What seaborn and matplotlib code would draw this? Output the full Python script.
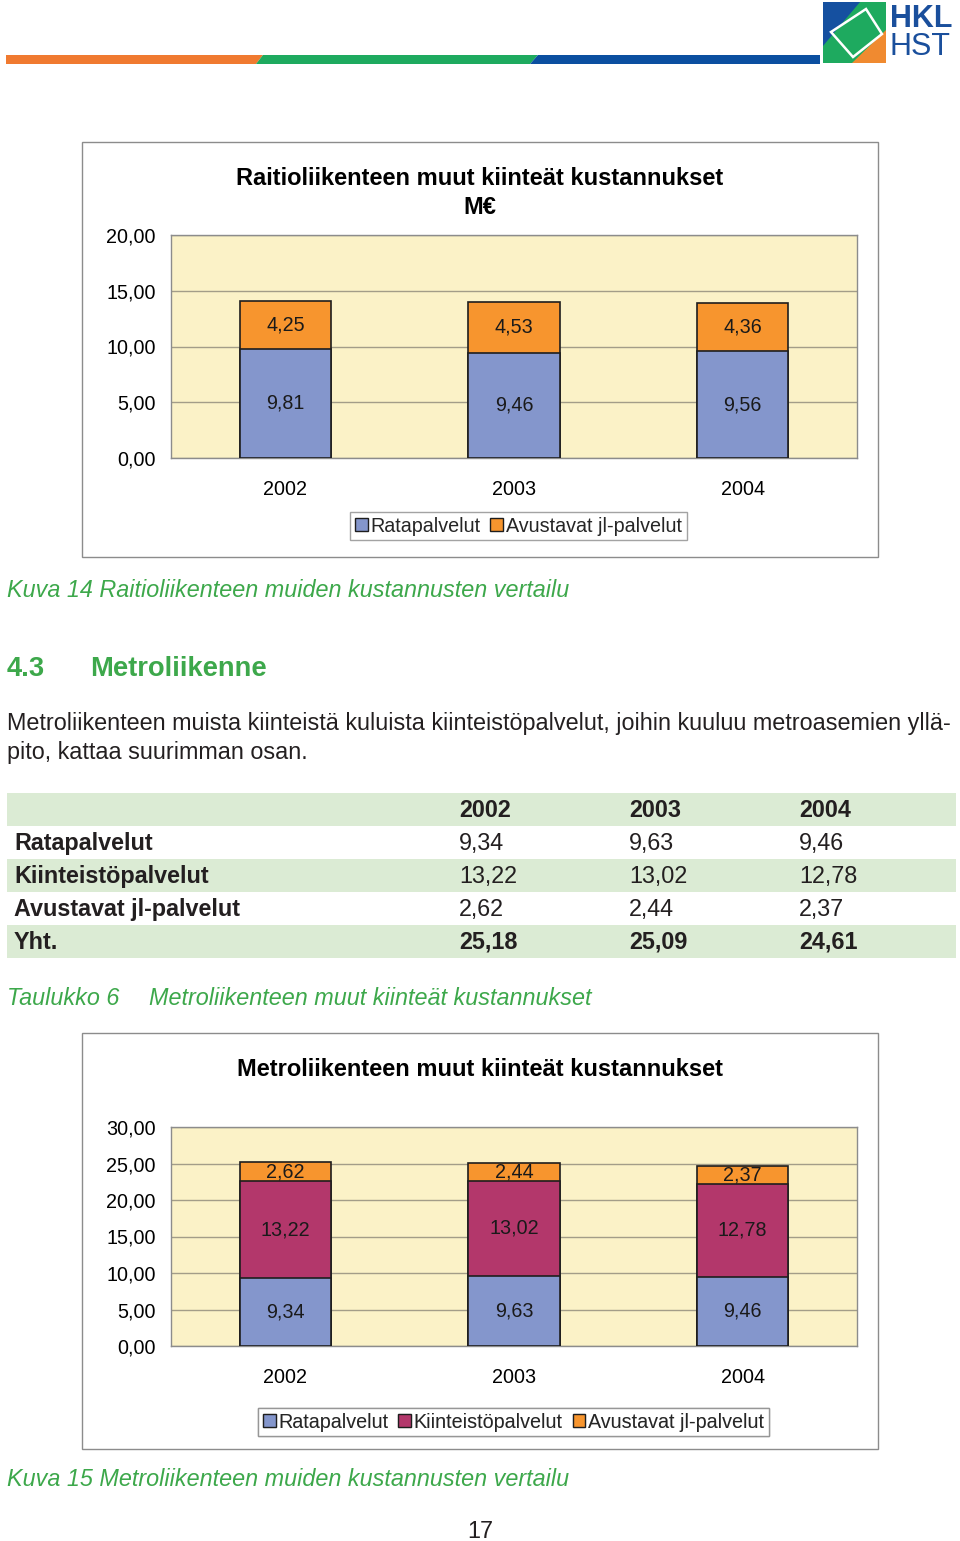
"""
HKL page 17 · Raitio- ja metroliikenteen muut kiinteät kustannukset
Rebuilds the report page: header bar, two stacked bar charts and the table.
"""
import matplotlib
matplotlib.use("Agg")
import matplotlib.pyplot as plt
import matplotlib.patches as mpatches
import seaborn as sns

# ── Data ──────────────────────────────────────────────────────────────────────
YEARS = ["2002", "2003", "2004"]

TRAM_RATA = [9.81, 9.46, 9.56]
TRAM_AVUST = [4.25, 4.53, 4.36]

METRO_RATA = [9.34, 9.63, 9.46]
METRO_KIINT = [13.22, 13.02, 12.78]
METRO_AVUST = [2.62, 2.44, 2.37]
METRO_YHT = [25.18, 25.09, 24.61]

TABLE_ROWS = ["Ratapalvelut", "Kiinteistöpalvelut", "Avustavat jl-palvelut", "Yht."]

# ── Style ─────────────────────────────────────────────────────────────────────
W, H = 960, 1541
C_RATA = "#8496CC"
C_KIINT = "#B3376B"
C_AVUST = "#F7952E"
C_PLOT_BG = "#FBF2C7"
C_GRID = "#A39D88"
C_GREEN_TXT = "#3DA84B"
C_SHADE = "#DBEBD4"
C_TEXT = "#231F20"

sns.set_theme(style="white")
plt.rcParams["font.family"] = ["Liberation Sans", "DejaVu Sans"]

BODY = 16.8
CHART = 14.2


def fmt(v):
    return f"{v:.2f}".replace(".", ",")


def px_axes(fig, x0, y0, x1, y1, **kw):
    return fig.add_axes([x0 / W, 1 - y1 / H, (x1 - x0) / W, (y1 - y0) / H], **kw)


fig = plt.figure(figsize=(W / 100, H / 100), dpi=100)

# background axes in pixel coordinates for the page decor
bg = fig.add_axes([0, 0, 1, 1], zorder=0)
bg.set_xlim(0, W)
bg.set_ylim(H, 0)
bg.axis("off")

# ── Header bar + logo ─────────────────────────────────────────────────────────
bg.add_patch(mpatches.Polygon([(6, 55), (263, 55), (256, 64), (6, 64)], color="#F07A30", lw=0))
bg.add_patch(mpatches.Polygon([(263, 55), (538, 55), (530, 64), (256, 64)], color="#1EAA5F", lw=0))
bg.add_patch(mpatches.Polygon([(538, 55), (820, 55), (820, 64), (530, 64)], color="#0B4FA0", lw=0))

bg.add_patch(mpatches.Rectangle((823, 2), 63, 61, color="#1EAA5F", lw=0))
bg.add_patch(mpatches.Polygon([(823, 2), (860, 2), (823, 46)], color="#1550A0", lw=0))
bg.add_patch(mpatches.Polygon([(886, 30), (886, 63), (852, 63)], color="#F08A30", lw=0))
bg.add_patch(mpatches.Polygon([(866, 9), (882, 34), (853, 57), (831, 32)], closed=True,
                              fill=False, edgecolor="white", lw=1.8))
bg.text(890, 19, "HKL", fontsize=22, fontweight="bold", color="#1A4F9C", ha="left", va="center")
bg.text(890, 47, "HST", fontsize=22, color="#1A4F9C", ha="left", va="center")


# ── Chart helper ──────────────────────────────────────────────────────────────
def stacked_chart(box, area, series, colors, names, ymax, titles, legend_xy):
    bx0, by0, bx1, by1 = box
    bg.add_patch(mpatches.Rectangle((bx0, by0), bx1 - bx0, by1 - by0,
                                    facecolor="white", edgecolor="#8C8C8C", lw=1.0))
    for text, ty in titles:
        bg.text((bx0 + bx1) / 2, ty, text, fontsize=17, fontweight="bold",
                color="black", ha="center", va="center")

    ax = px_axes(fig, *area, zorder=2)
    ax.set_facecolor(C_PLOT_BG)

    # stacked bars: draw cumulative totals from the top segment down
    tops = []
    run = [0.0] * len(YEARS)
    for vals in series:
        run = [r + v for r, v in zip(run, vals)]
        tops.append(run)
    for top, col in reversed(list(zip(tops, colors))):
        sns.barplot(x=YEARS, y=top, color=col, saturation=1, width=0.4,
                    errorbar=None, edgecolor="#1E1E1E", linewidth=1.2, ax=ax, zorder=3)

    bottoms = [[0.0] * len(YEARS)] + tops[:-1]
    for vals, bot in zip(series, bottoms):
        for i, (v, b) in enumerate(zip(vals, bot)):
            ax.text(i, b + v / 2, fmt(v), ha="center", va="center",
                    fontsize=CHART, color="#1A1A1A", zorder=4)

    ax.set_ylim(0, ymax)
    ax.set_xlim(-0.5, 2.5)
    yt = list(range(0, ymax + 1, 5))
    ax.set_yticks(yt, labels=[fmt(v) for v in yt])
    ax.yaxis.grid(True, color=C_GRID, lw=1.0)
    ax.set_axisbelow(True)
    ax.set_xticks([-0.5, 0.5, 1.5, 2.5], labels=[])
    ax.set_xticks([0, 1, 2], labels=YEARS, minor=True)
    ax.tick_params(axis="x", which="major", length=6, width=1, color="#8C8C8C", direction="out")
    ax.tick_params(axis="x", which="minor", length=0, pad=15.5, labelsize=CHART, labelcolor="black")
    ax.tick_params(axis="y", length=5, width=1, color="#8C8C8C", direction="out",
                   pad=6, labelsize=CHART, labelcolor="black")
    ax.set_xlabel("")
    ax.set_ylabel("")
    for sp in ax.spines.values():
        sp.set_visible(True)
        sp.set_color("#8C8C8C")
        sp.set_linewidth(1.0)

    handles = [mpatches.Patch(facecolor=c, edgecolor="#1E1E1E", lw=1.0, label=n)
               for c, n in zip(colors, names)]
    leg = bg.legend(handles=handles, loc="center", bbox_to_anchor=legend_xy,
                    bbox_transform=bg.transData, ncol=len(names), fontsize=CHART,
                    frameon=True, fancybox=False, handlelength=0.62, handleheight=0.62,
                    handletextpad=0.15, columnspacing=0.5, borderpad=0.25,
                    borderaxespad=0)
    leg.get_frame().set_edgecolor("#8C8C8C")
    leg.get_frame().set_linewidth(1.0)
    bg.add_artist(leg)
    return ax


# ── Chart 1: raitioliikenne ───────────────────────────────────────────────────
stacked_chart(box=(82, 142, 878, 557), area=(171, 235, 857, 458),
              series=[TRAM_RATA, TRAM_AVUST], colors=[C_RATA, C_AVUST],
              names=["Ratapalvelut", "Avustavat jl-palvelut"], ymax=20,
              titles=[("Raitioliikenteen muut kiinteät kustannukset", 178), ("M€", 207)],
              legend_xy=(518.5, 526))

bg.text(7, 590, "Kuva 14 Raitioliikenteen muiden kustannusten vertailu", fontsize=BODY,
        style="italic", color=C_GREEN_TXT, ha="left", va="center")

# ── Section text ──────────────────────────────────────────────────────────────
bg.text(7, 669, "4.3", fontsize=19.7, fontweight="bold", color=C_GREEN_TXT, ha="left", va="center")
bg.text(90, 669, "Metroliikenne", fontsize=19.7, fontweight="bold", color=C_GREEN_TXT,
        ha="left", va="center")
bg.text(7, 723, "Metroliikenteen muista kiinteistä kuluista kiinteistöpalvelut, joihin kuuluu "
        "metroasemien yllä-", fontsize=BODY, color=C_TEXT, ha="left", va="center")
bg.text(7, 752, "pito, kattaa suurimman osan.", fontsize=BODY, color=C_TEXT, ha="left", va="center")

# ── Table ─────────────────────────────────────────────────────────────────────
row_y = [810, 843, 876, 909, 942]
col_x = [459, 629, 799]
for k, yc in enumerate(row_y):
    if k % 2 == 0:
        bg.add_patch(mpatches.Rectangle((7, yc - 17), 949, 33, color=C_SHADE, lw=0))
for x, yr in zip(col_x, YEARS):
    bg.text(x, row_y[0], yr, fontsize=BODY, fontweight="bold", color=C_TEXT, ha="left", va="center")
table_vals = [METRO_RATA, METRO_KIINT, METRO_AVUST, METRO_YHT]
for label, vals, yc in zip(TABLE_ROWS, table_vals, row_y[1:]):
    bold_row = label == "Yht."
    bg.text(14, yc, label, fontsize=BODY, fontweight="bold", color=C_TEXT, ha="left", va="center")
    for x, v in zip(col_x, vals):
        bg.text(x, yc, fmt(v), fontsize=BODY, fontweight="bold" if bold_row else "normal",
                color=C_TEXT, ha="left", va="center")

bg.text(7, 998, "Taulukko 6", fontsize=BODY, style="italic", color=C_GREEN_TXT, ha="left", va="center")
bg.text(149, 998, "Metroliikenteen muut kiinteät kustannukset", fontsize=BODY, style="italic",
        color=C_GREEN_TXT, ha="left", va="center")

# ── Chart 2: metroliikenne ────────────────────────────────────────────────────
stacked_chart(box=(82, 1033, 878, 1449), area=(171, 1127, 857, 1346),
              series=[METRO_RATA, METRO_KIINT, METRO_AVUST], colors=[C_RATA, C_KIINT, C_AVUST],
              names=["Ratapalvelut", "Kiinteistöpalvelut", "Avustavat jl-palvelut"], ymax=30,
              titles=[("Metroliikenteen muut kiinteät kustannukset", 1069)],
              legend_xy=(513.5, 1422))

bg.text(7, 1480, "Kuva 15 Metroliikenteen muiden kustannusten vertailu", fontsize=BODY,
        style="italic", color=C_GREEN_TXT, ha="left", va="center")
bg.text(480, 1532, "17", fontsize=BODY, color=C_TEXT, ha="center", va="center")

fig.savefig("out.png", dpi=100)
plt.close(fig)
